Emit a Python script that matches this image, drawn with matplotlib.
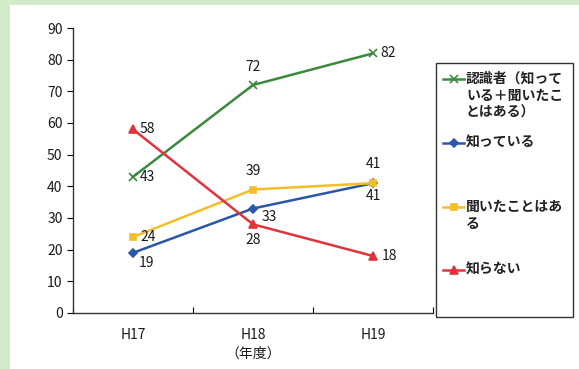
import matplotlib.pyplot as plt
from matplotlib.lines import Line2D
from matplotlib.patches import Rectangle

plt.rcParams['font.family'] = ['Noto Sans CJK JP', 'DejaVu Sans']

years = ['H17', 'H18', 'H19']
aware = [43, 72, 82]        # 認識者
know = [19, 33, 41]         # 知っている
heard = [24, 39, 41]        # 聞いたことはある
unaware = [58, 28, 18]      # 知らない

series_labels = ['認識者（知って\nいる＋聞いたこ\nとはある）', '知っている',
                 '聞いたことはあ\nる', '知らない']

series = [
    (aware, '#3a8a3e', 'x', 6, [(5, 0, 'left', 'center'), (0, 8, 'center', 'bottom'), (5, 0, 'left', 'center')]),
    (know, '#2a56a8', 'D', 4, [(4, -2, 'left', 'top'), (6, -1, 'left', 'top'), (0, -4, 'center', 'top')]),
    (heard, '#f2bf2a', 's', 4.5, [(5, 0, 'left', 'center'), (0, 8, 'center', 'bottom'), (0, 9, 'center', 'bottom')]),
    (unaware, '#e2333d', '^', 6, [(5, 0, 'left', 'center'), (0, -6, 'center', 'top'), (6, 0, 'left', 'center')]),
]

W, H = 579, 369
fig = plt.figure(figsize=(W / 100, H / 100), dpi=100)
fig.patch.set_facecolor('#d3ebc8')
# white panel inside the green frame
fig.patches.append(Rectangle((10 / W, 0), 1, (H - 5) / H, transform=fig.transFigure,
                             facecolor='white', edgecolor='none', zorder=-10))

ax = fig.add_axes([73 / W, 1 - 313 / H, 360 / W, 285 / H])
ax.set_facecolor('none')
ax.set_zorder(5)
xs = [0.5, 1.5, 2.5]

for vals, color, marker, ms, offs in series:
    ax.plot(xs, vals, color=color, lw=1.8, marker=marker, ms=ms, mew=1.2, zorder=3)
    for x, v, (dx, dy, ha, va) in zip(xs, vals, offs):
        ax.annotate(str(v), (x, v), xytext=(dx, dy), textcoords='offset points',
                    ha=ha, va=va, fontsize=10, color='#1a1a1a')

ax.set_xlim(0, 3)
ax.set_ylim(0, 90)
ax.set_yticks(range(0, 91, 10))
ax.set_xticks([0, 1, 2, 3])
ax.set_xticklabels([])
ax.set_xticks(xs, minor=True)
ax.set_xticklabels(years, minor=True, fontsize=10, color='#1a1a1a')
ax.tick_params(axis='x', which='minor', length=0, pad=11)
ax.tick_params(axis='x', which='major', direction='in', length=4)
ax.tick_params(axis='y', direction='out', length=4, labelsize=10, labelcolor='#1a1a1a')
ax.set_xlabel('（年度）', fontsize=10, labelpad=3, color='#1a1a1a')
for side in ['top', 'right']:
    ax.spines[side].set_visible(False)
for side in ['left', 'bottom']:
    ax.spines[side].set_color('#333333')
    ax.spines[side].set_linewidth(1.0)

# legend box drawn by hand so each handle sits on the first line of its label
fig.patches.append(Rectangle((436 / W, 1 - 317 / H), 137 / W, 254 / H, transform=fig.transFigure,
                             facecolor='white', edgecolor='#333333', lw=1.0, zorder=2))
row_y = [79, 143, 207, 270]
for (vals, color, marker, ms, _), label, y in zip(series, series_labels, row_y):
    fy = 1 - y / H
    fig.add_artist(Line2D([443 / W, 464 / W], [fy, fy], transform=fig.transFigure,
                          color=color, lw=1.8, zorder=3))
    fig.add_artist(Line2D([453.5 / W], [fy], transform=fig.transFigure, color=color,
                          marker=marker, ms=ms, mew=1.2, zorder=3))
    fig.text(466 / W, fy + 7 / H, label, fontsize=10, va='top', ha='left',
             linespacing=1.25, color='#222222', fontweight='bold', zorder=4)

fig.savefig('out.png', dpi=100)
